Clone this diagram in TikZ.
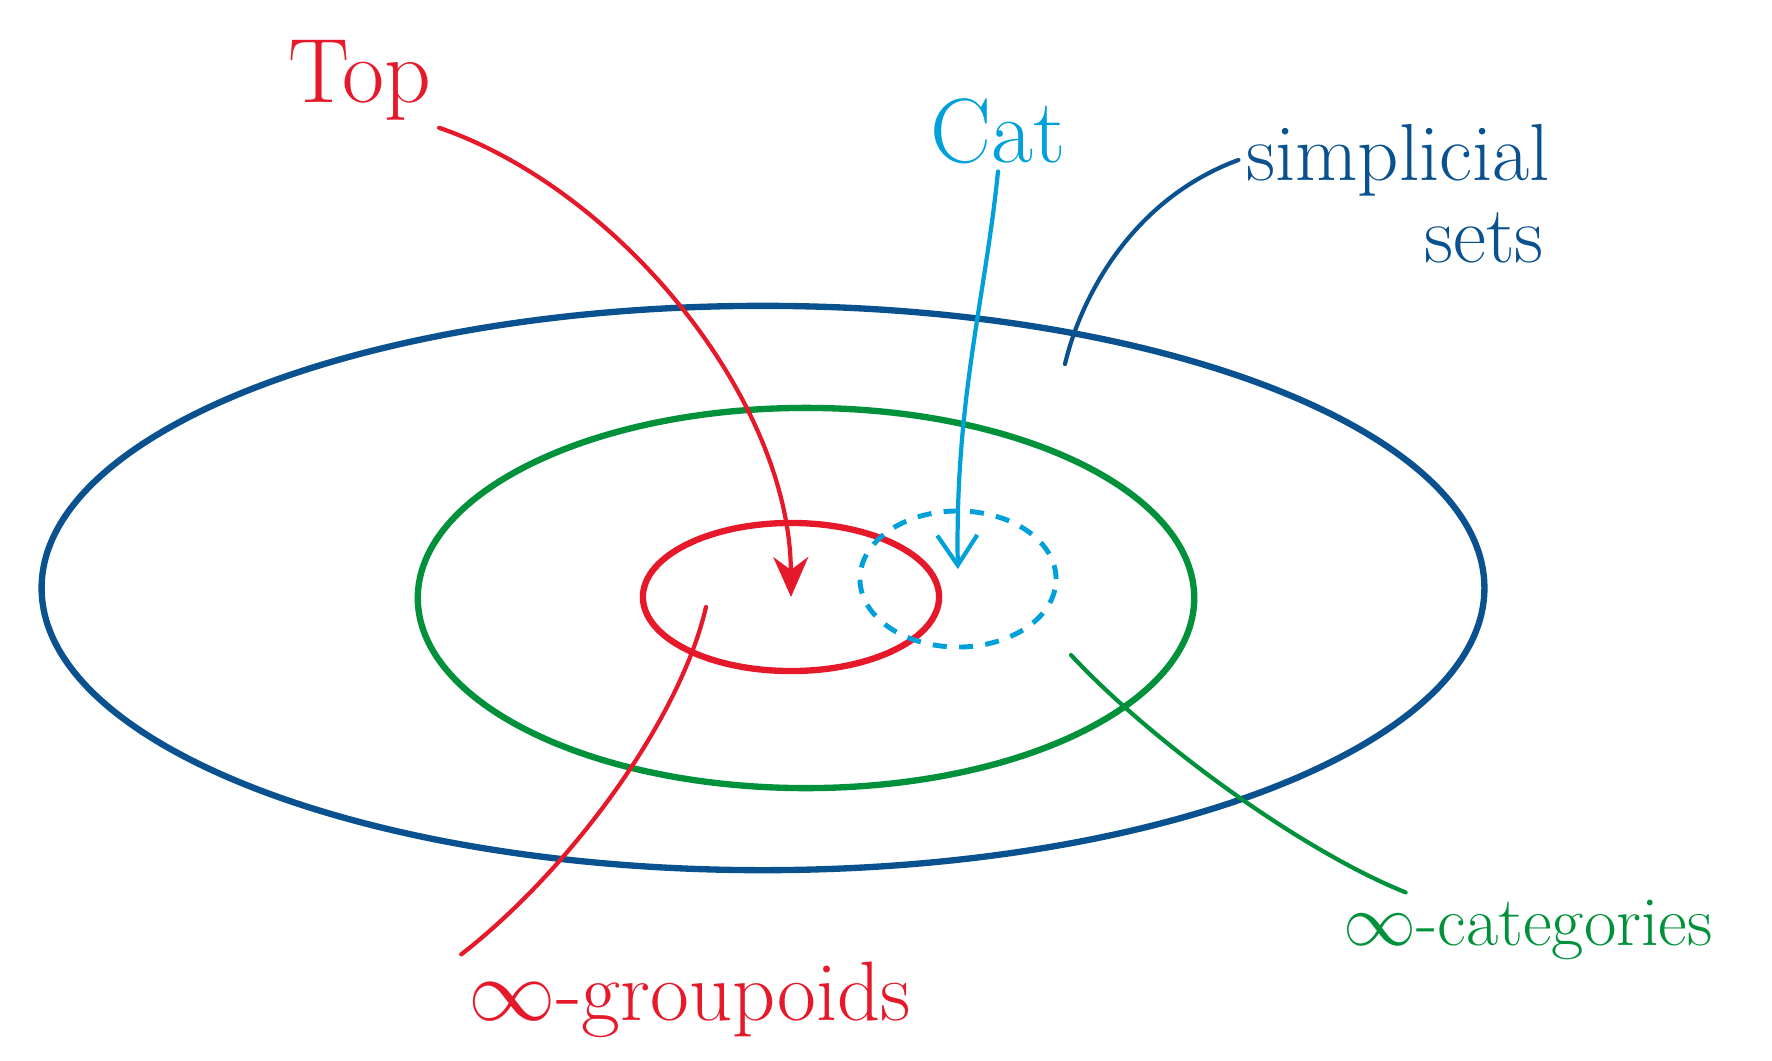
\documentclass[tikz,border=0pt]{standalone}
\usepackage{xcolor}
\definecolor{topRed}{HTML}{E6192B}
\definecolor{catBlue}{HTML}{00A0DA}
\definecolor{ssetBlue}{HTML}{0A5190}
\definecolor{qcatGreen}{HTML}{00913A}
\usetikzlibrary{
    shapes.geometric,
    arrows.meta,
    positioning
}
\tikzset{
    % Nested regions - plain ellipses, colour as argument
    ring/.style={
        ellipse,
        draw=#1,
        line width=1.8pt,
        inner sep=0pt,
    },
    % Loosely dashed variant for Cat
    ring dashed/.style={
        ring=#1,
        dash pattern=on 4pt off 3.5pt,
        line width=1.4pt,
    },
    % Labels written next to the regions
    hand label/.style={
        font=\fontsize{24}{24}\selectfont,
        inner sep=2pt,
    },
    % Thin curved pointer from a label into its region
    pointer/.style={
        draw=#1,
        line width=1.2pt,
        line cap=round,
    },
}

\begin{document}
\begin{tikzpicture}[x=0.01cm, y=-0.01cm]
    \useasboundingbox (0,0) rectangle (1772,1060);

    \node (sset) [ring=ssetBlue, minimum width=14.42cm, minimum height=5.64cm] at (763,588) {};
    \node (qcat) [ring=qcatGreen, minimum width=7.76cm, minimum height=3.80cm] at (806,598) {};
    \node (grpd) [ring=topRed, minimum width=2.96cm, minimum height=1.48cm] at (791,597) {};
    \node (cat1) [ring dashed=catBlue, minimum width=1.96cm, minimum height=1.36cm] at (958,579) {};

    \node (toplbl) [hand label, text=topRed, font=\fontsize{26}{26}\selectfont] at (360,80) {Top};
    \node (catlbl) [hand label, text=catBlue, font=\fontsize{26}{26}\selectfont] at (998,131) {Cat};
    \node (sset1) [hand label, text=ssetBlue, font=\fontsize{23}{23}\selectfont] at (1398,160) {simplicial};
    \node (sset2) [hand label, text=ssetBlue, font=\fontsize{23}{23}\selectfont] at (1484,238) {sets};
    \node (grpdlbl) [hand label, text=topRed] at (690,1000) {$\infty$-groupoids};
    \node (qcatlbl) [hand label, text=qcatGreen, font=\fontsize{20}{20}\selectfont] at (1528,930) {$\infty$-categories};

    \coordinate (ssetpt) at (1065,364);
    \coordinate (grpdpt) at (706,607);
    \coordinate (qcatpt) at (1071,655);

    \draw [pointer=topRed, -{Stealth[length=4mm, width=3.5mm]}] (toplbl.south east) .. controls (620,190) and (790,400) .. (grpd.center);
    \draw [pointer=catBlue, -{Straight Barb[length=3mm, width=4mm]}, shorten >=0.1cm] (catlbl.south) .. controls (985,300) and (955,400) .. (cat1.center);
    \draw [pointer=ssetBlue] (sset1.west) .. controls (1130,200) and (1080,300) .. (ssetpt);
    \draw [pointer=topRed] (grpdpt) .. controls (680,720) and (570,870) .. (grpdlbl.north west);
    \draw [pointer=qcatGreen] (qcatpt) .. controls (1150,740) and (1300,850) .. ([xshift=0.7cm]qcatlbl.north west);
\end{tikzpicture}
\end{document}
